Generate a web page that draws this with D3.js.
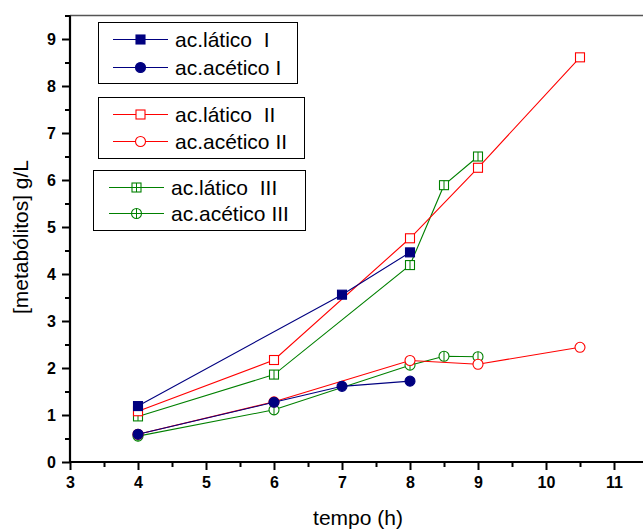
<!DOCTYPE html>
<html>
<head>
<meta charset="utf-8">
<script src="https://cdn.jsdelivr.net/npm/d3@7/dist/d3.min.js"></script>
<style>
  html, body { margin: 0; padding: 0; background: #fff; overflow: hidden; }
  svg { display: block; font-family: "Liberation Sans", Arial, sans-serif; }
</style>
</head>
<body>
<svg id="chart" width="643" height="532"></svg>
<script>
// Time points (h) and metabolite concentrations (g/L)
const timeI = [4, 7, 8];
const laticoI = [1.19, 3.56, 4.46];
const timeAceticoI = [4, 6, 7, 8];
const aceticoI = [0.59, 1.27, 1.61, 1.72];

const timeII = [4, 6, 8, 9, 10.5];
const laticoII = [1.08, 2.17, 4.76, 6.26, 8.61];
const aceticoII = [0.59, 1.28, 2.16, 2.08, 2.44];

const timeIII = [4, 6, 8, 8.5, 9];
const laticoIII = [0.97, 1.86, 4.19, 5.89, 6.50];
const aceticoIII = [0.55, 1.11, 2.06, 2.25, 2.24];

const xTicks = [3, 4, 5, 6, 7, 8, 9, 10, 11];
const yTicks = [0, 1, 2, 3, 4, 5, 6, 7, 8, 9];

const NAVY = "#000080", RED = "#ff0000", GREEN = "#008000";

const series = [
  { name: "ac.acético III", xs: timeIII, ys: aceticoIII, color: GREEN, shape: "circle", fill: "open", mark: "v" },
  { name: "ac.lático  III", xs: timeIII, ys: laticoIII, color: GREEN, shape: "square", fill: "open", mark: "v" },
  { name: "ac.acético II", xs: timeII, ys: aceticoII, color: RED, shape: "circle", fill: "open" },
  { name: "ac.lático  II", xs: timeII, ys: laticoII, color: RED, shape: "square", fill: "open" },
  { name: "ac.acético I", xs: timeAceticoI, ys: aceticoI, color: NAVY, shape: "circle", fill: "solid" },
  { name: "ac.lático  I", xs: timeI, ys: laticoI, color: NAVY, shape: "square", fill: "solid" }
];

const svg = d3.select("#chart");
const x = d3.scaleLinear().domain([3, 11.5]).range([70, 648]);
const y = d3.scaleLinear().domain([0, 9.5]).range([462, 15.5]);

// top frame line
svg.append("line")
  .attr("x1", x(3)).attr("x2", 643)
  .attr("y1", y(9.5)).attr("y2", y(9.5))
  .attr("stroke", "#555").attr("stroke-width", 1.6);

function drawMarker(g, shape, fill, color, cx, cy, mark) {
  if (shape === "square") {
    const s = 9;
    g.append("rect")
      .attr("x", cx - s / 2).attr("y", cy - s / 2)
      .attr("width", s).attr("height", s)
      .attr("fill", fill === "solid" ? color : "#fff")
      .attr("stroke", color).attr("stroke-width", 1.1);
    if (mark) {
      g.append("line").attr("x1", cx).attr("x2", cx).attr("y1", cy - s / 2).attr("y2", cy + s / 2)
        .attr("stroke", color).attr("stroke-width", 1);
      if (mark === "vh") {
        g.append("line").attr("x1", cx - s / 2).attr("x2", cx + s / 2).attr("y1", cy).attr("y2", cy)
          .attr("stroke", color).attr("stroke-width", 1);
      }
    }
  } else {
    const r = 5;
    g.append("circle")
      .attr("cx", cx).attr("cy", cy).attr("r", r)
      .attr("fill", fill === "solid" ? color : "#fff")
      .attr("stroke", color).attr("stroke-width", 1.1);
    if (mark) {
      g.append("line").attr("x1", cx).attr("x2", cx).attr("y1", cy - r).attr("y2", cy + r)
        .attr("stroke", color).attr("stroke-width", 1);
      if (mark === "vh") {
        g.append("line").attr("x1", cx - r).attr("x2", cx + r).attr("y1", cy).attr("y2", cy)
          .attr("stroke", color).attr("stroke-width", 1);
      }
    }
  }
}

// series lines and markers
const plot = svg.append("g");
series.forEach(s => {
  const pts = s.xs.map((t, i) => [t, s.ys[i]]);
  const g = plot.append("g");
  g.append("path")
    .attr("d", d3.line().x(d => x(d[0])).y(d => y(d[1]))(pts))
    .attr("fill", "none").attr("stroke", s.color).attr("stroke-width", 1.1);
  pts.forEach(p => drawMarker(g, s.shape, s.fill, s.color, x(p[0]), y(p[1]), s.mark));
});

// axes
const xAxis = svg.append("g").attr("transform", `translate(0,${y(0)})`)
  .call(d3.axisBottom(x).tickValues(xTicks).tickFormat(d3.format("d")).tickSize(8).tickPadding(7));
svg.append("g").attr("transform", `translate(0,${y(0)})`)
  .call(d3.axisBottom(x).tickValues(d3.range(3.5, 11.6, 1)).tickFormat("").tickSize(5))
  .select(".domain").remove();
const yAxis = svg.append("g").attr("transform", `translate(${x(3)},0)`)
  .call(d3.axisLeft(y).tickValues(yTicks).tickFormat(d3.format("d")).tickSize(8).tickPadding(6));
svg.append("g").attr("transform", `translate(${x(3)},0)`)
  .call(d3.axisLeft(y).tickValues(d3.range(0.5, 9.6, 1)).tickFormat("").tickSize(5))
  .select(".domain").remove();

[xAxis, yAxis].forEach(a => {
  a.select(".domain").attr("stroke", "#000").attr("stroke-width", 2.2);
  a.selectAll(".tick text").attr("font-size", 16).attr("font-weight", "bold")
    .attr("font-family", "'Liberation Sans', Arial, sans-serif").attr("fill", "#000");
});
svg.selectAll(".tick line").attr("stroke", "#000").attr("stroke-width", 2);
xAxis.select(".domain").attr("d", `M${x(3)},0H643`);
yAxis.select(".domain").attr("d", `M0,${y(0)}V${y(9.5)}`);

// axis titles
svg.append("text")
  .attr("x", 358).attr("y", 525)
  .attr("text-anchor", "middle").attr("font-size", 21)
  .text("tempo (h)");
svg.append("text")
  .attr("transform", "translate(28,237) rotate(-90)")
  .attr("text-anchor", "middle").attr("font-size", 21)
  .text("[metabólitos] g/L");

// legend boxes
const legends = [
  { box: [98.5, 22.5, 199, 61], lineX: [113, 168], items: [
    { s: series[5], label: "ac.lático  I", y: 39.5 },
    { s: series[4], label: "ac.acético I", y: 67.5 } ] },
  { box: [98.5, 97.5, 206, 61], lineX: [113, 168], items: [
    { s: series[3], label: "ac.lático  II", y: 114.5 },
    { s: series[2], label: "ac.acético II", y: 141.5 } ] },
  { box: [93.5, 170.5, 212, 60], lineX: [109, 164], items: [
    { s: series[1], label: "ac.lático  III", y: 187.5 },
    { s: series[0], label: "ac.acético III", y: 213.5 } ] }
];
legends.forEach(L => {
  const g = svg.append("g");
  g.append("rect")
    .attr("x", L.box[0]).attr("y", L.box[1]).attr("width", L.box[2]).attr("height", L.box[3])
    .attr("fill", "#fff").attr("stroke", "#000").attr("stroke-width", 1);
  L.items.forEach(it => {
    g.append("line")
      .attr("x1", L.lineX[0]).attr("x2", L.lineX[1]).attr("y1", it.y).attr("y2", it.y)
      .attr("stroke", it.s.color).attr("stroke-width", 1.1);
    drawMarker(g, it.s.shape, it.s.fill, it.s.color, (L.lineX[0] + L.lineX[1]) / 2, it.y, it.s.mark ? "vh" : null);
    g.append("text")
      .attr("x", L.lineX[1] + 7).attr("y", it.y + 7.5)
      .attr("font-size", 21)
      .style("white-space", "pre")
      .text(it.label);
  });
});
</script>
</body>
</html>
